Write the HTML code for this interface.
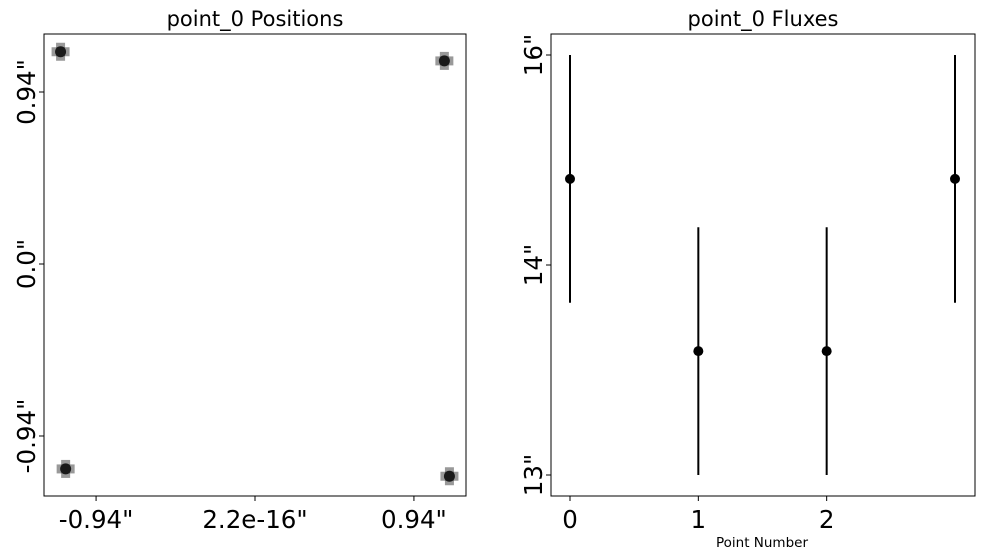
<!DOCTYPE html>
<html><head><meta charset="utf-8"><style>
body{margin:0;background:#fff;}
svg{display:block;font-family:"DejaVu Sans","Liberation Sans",sans-serif;}
</style></head><body>
<svg id="fig" width="983" height="559" viewBox="0 0 983 559">
<rect width="983" height="559" fill="#fff"/>
<g id="left"></g>
<g id="right"></g>
</svg>
<script>
// Left chart data
const posX = [-1.15, 1.12, -1.12, 1.15];
const posY = [1.16, 1.11, -1.12, -1.16];
const posXTicks = [-0.94, 0, 0.94];
const posXTickLabels = ['-0.94"', '2.2e-16"', '0.94"'];
const posYTicks = [-0.94, 0, 0.94];
const posYTickLabels = ['-0.94"', '0.0"', '0.94"'];
// Right chart data
const fluxPoints = [0, 1, 2, 3];
const fluxVals = [1.41, 0.59, 0.59, 1.41];
const fluxLow = [0.82, 0.0, 0.0, 0.82];
const fluxHigh = [2.0, 1.18, 1.18, 2.0];
const fluxXTicks = [0, 1, 2];
const fluxXTickLabels = ['0', '1', '2'];
const fluxYTicks = [0, 1, 2];
const fluxYTickLabels = ['13"', '14"', '16"'];

const NS = 'http://www.w3.org/2000/svg';
function mk(parent, tag, attrs, text) {
  const e = document.createElementNS(NS, tag);
  for (const k in attrs) e.setAttribute(k, attrs[k]);
  if (text !== undefined) e.textContent = text;
  parent.appendChild(e);
  return e;
}
function lin(d0, d1, r0, r1) { return v => r0 + (v - d0) / (d1 - d0) * (r1 - r0); }

// LEFT
const L = document.getElementById('left');
const lx = lin(-1.248, 1.248, 44, 466), ly = lin(-1.268, 1.257, 496, 34);
let t = mk(L, 'text', {x: 255, y: 26, 'text-anchor': 'middle', 'font-size': 21}, 'point_0 Positions');


posXTicks.forEach((v, i) => {
  const x = lx(v);
  const l = mk(L, 'line', {x1: x, x2: x, y1: 496, y2: 501, stroke: '#000', 'stroke-width': 1});
  
  
  const tx = mk(L, 'text', {x: x, y: 528, 'text-anchor': 'middle', 'font-size': 24.5}, posXTickLabels[i]);
  
  
});
posYTicks.forEach((v, i) => {
  const y = ly(v);
  const l = mk(L, 'line', {x1: 39, x2: 44, y1: y, y2: y, stroke: '#000', 'stroke-width': 1});
  
  
  const tx = mk(L, 'text', {x: 0, y: 0, 'text-anchor': 'middle', 'font-size': 24.5, transform: `translate(35,${y}) rotate(-90)`}, posYTickLabels[i]);
  
  
});
posX.forEach((v, i) => {
  const x = lx(v), y = ly(posY[i]);
  const g = mk(L, 'g', {});
  
  
  mk(g, 'rect', {x: x - 9, y: y - 4.5, width: 18, height: 9, fill: '#000', 'fill-opacity': 0.4});
  mk(g, 'rect', {x: x - 4.5, y: y - 9, width: 9, height: 18, fill: '#000', 'fill-opacity': 0.4});
  mk(g, 'circle', {cx: x, cy: y, r: 5.5, fill: '#1a1a1a'});
});
let fr = mk(L, 'rect', {x: 44, y: 34, width: 422, height: 462, fill: 'none', stroke: '#000', 'stroke-width': 1});



// RIGHT
const R = document.getElementById('right');
const rx = lin(0, 3, 570, 955), ry = lin(0, 2, 475, 55);
t = mk(R, 'text', {x: 763, y: 26, 'text-anchor': 'middle', 'font-size': 21}, 'point_0 Fluxes');


fluxXTicks.forEach((v, i) => {
  const x = rx(v);
  const l = mk(R, 'line', {x1: x, x2: x, y1: 496, y2: 501, stroke: '#000', 'stroke-width': 1});
  
  
  const tx = mk(R, 'text', {x: x, y: 528, 'text-anchor': 'middle', 'font-size': 24.5}, fluxXTickLabels[i]);
  
  
});
fluxYTicks.forEach((v, i) => {
  const y = ry(v);
  const l = mk(R, 'line', {x1: 546, x2: 551, y1: y, y2: y, stroke: '#000', 'stroke-width': 1});
  
  
  const tx = mk(R, 'text', {x: 0, y: 0, 'text-anchor': 'middle', 'font-size': 24.5, transform: `translate(542,${y}) rotate(-90)`}, fluxYTickLabels[i]);
  
  
});
t = mk(R, 'text', {x: 762, y: 547, 'text-anchor': 'middle', 'font-size': 13.5}, 'Point Number');


fluxPoints.forEach((p, i) => {
  const x = rx(p);
  const eb = mk(R, 'line', {x1: x, x2: x, y1: ry(fluxHigh[i]), y2: ry(fluxLow[i]), stroke: '#000', 'stroke-width': 2});
  
  
  const c = mk(R, 'circle', {cx: x, cy: ry(fluxVals[i]), r: 5, fill: '#000'});
  
  
});
fr = mk(R, 'rect', {x: 551, y: 34, width: 424, height: 462, fill: 'none', stroke: '#000', 'stroke-width': 1});


</script>
</body></html>
